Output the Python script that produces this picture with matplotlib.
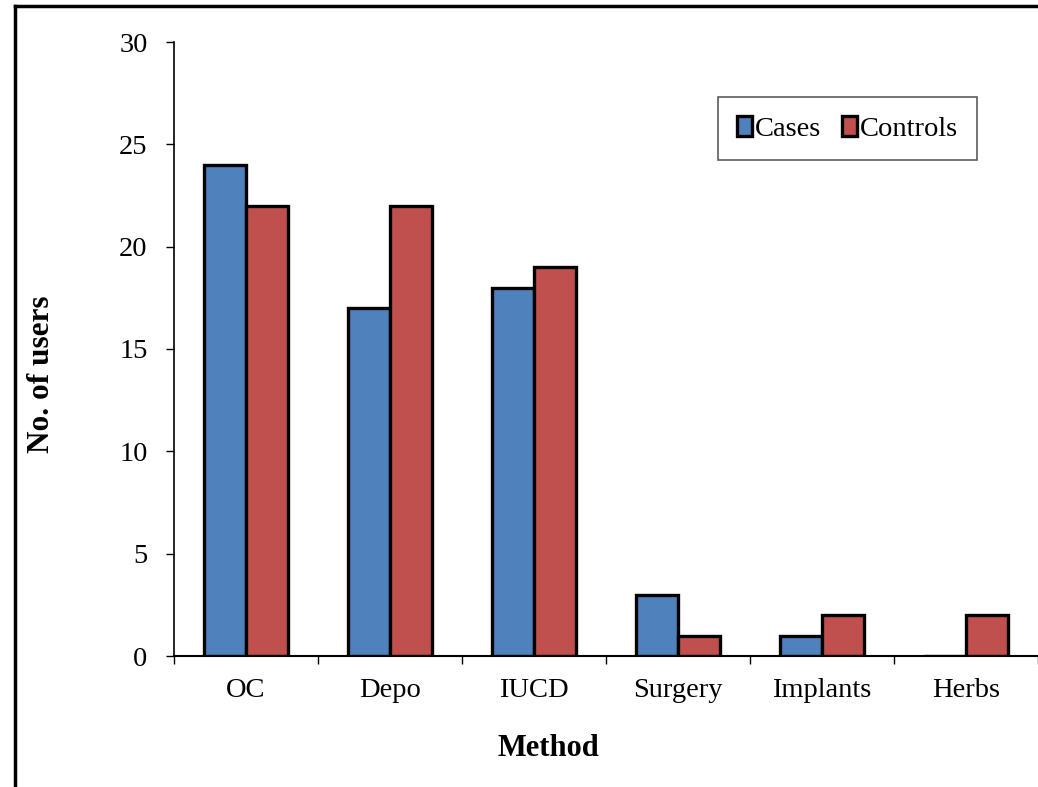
import numpy as np
import matplotlib.pyplot as plt
from matplotlib.lines import Line2D

methods = ["OC", "Depo", "IUCD", "Surgery", "Implants", "Herbs"]
cases = [24, 17, 18, 3, 1, 0]
controls = [22, 22, 19, 1, 2, 2]

plt.rcParams['font.family'] = ['Liberation Serif', 'DejaVu Serif']

fig = plt.figure(figsize=(10.38, 7.87), dpi=100)
ax = fig.add_axes([174/1038, 1 - 656/787, 1 - 174/1038, (656 - 42)/787])

x = np.arange(len(methods))
w = 0.29
ax.bar(x - w/2, cases, w, color="#4F81BD", edgecolor="black", linewidth=2.4, label="Cases")
ax.bar(x + w/2, controls, w, color="#C0504D", edgecolor="black", linewidth=2.4, label="Controls")

ax.set_xlim(-0.5, len(methods) - 0.5)
ax.set_ylim(0, 30)
ax.set_yticks(range(0, 31, 5))

# ticks at the category borders, labels in the middle
ax.set_xticks(np.arange(-0.5, len(methods), 1))
ax.set_xticklabels([])
ax.set_xticks(x, minor=True)
ax.set_xticklabels(methods, minor=True)
ax.tick_params(axis="x", which="major", direction="out", length=6, width=1)
ax.tick_params(axis="x", which="minor", length=0, pad=16, labelsize=20.5)
ax.tick_params(axis="y", direction="out", length=6, width=1, pad=13, labelsize=20.5)

ax.spines["top"].set_visible(False)
ax.spines["right"].set_visible(False)
ax.spines["left"].set_linewidth(1.2)
ax.spines["bottom"].set_linewidth(1.5)

ax.set_ylabel("No. of users", fontsize=22.5, fontweight="bold")
ax.set_xlabel("Method", fontsize=22, fontweight="bold")
ax.yaxis.set_label_coords((42 - 174)/864, (656 - 374)/614)
ax.xaxis.set_label_coords((548 - 174)/864, -(748 - 656)/614)
ax.yaxis.label.set_verticalalignment("center")
ax.xaxis.label.set_verticalalignment("center")

leg = ax.legend(loc="upper right", bbox_to_anchor=(0.929, 0.910), ncol=2, fontsize=20.5,
                frameon=True, fancybox=False, edgecolor="#333333", borderaxespad=0,
                handlelength=0.55, handleheight=0.7, handletextpad=0.1,
                columnspacing=0.7, borderpad=0.65)
leg.get_frame().set_linewidth(1.2)

# outer frame of the picture (left and top edges visible)
fig.add_artist(Line2D([15/1038, 15/1038], [0, 1 - 6/787], transform=fig.transFigure, color="black", linewidth=2.5))
fig.add_artist(Line2D([15/1038, 1], [1 - 6/787, 1 - 6/787], transform=fig.transFigure, color="black", linewidth=2.5))

fig.savefig("out.png", dpi=100)
